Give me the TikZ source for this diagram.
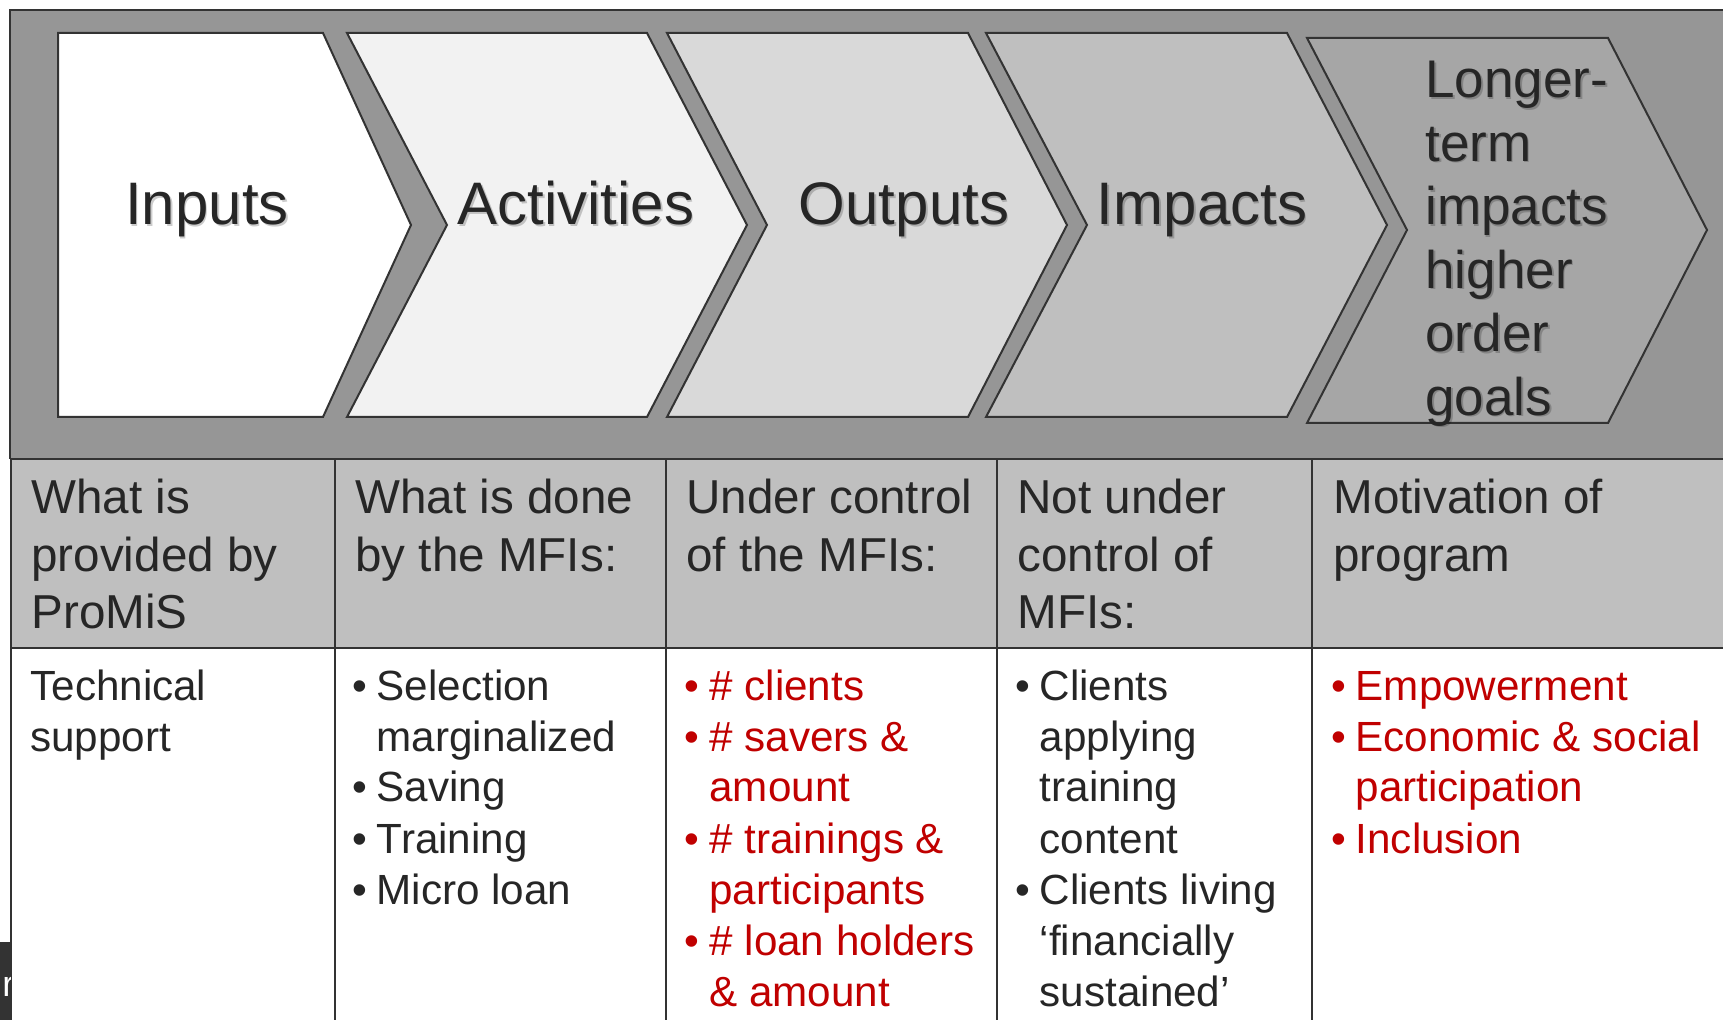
\documentclass[tikz,border=0pt]{standalone}
\usepackage{fontspec}
\setmainfont{Liberation Sans}
\usepackage{tikz}

\definecolor{band}{HTML}{969696}
\definecolor{headfill}{HTML}{BFBFBF}
\definecolor{rulegray}{HTML}{333333}
\definecolor{txt}{HTML}{262626}
\definecolor{mfired}{HTML}{C00000}
\definecolor{stepB}{HTML}{F2F2F2}
\definecolor{stepC}{HTML}{D9D9D9}
\definecolor{stepD}{HTML}{BFBFBF}
\definecolor{stepE}{HTML}{A6A6A6}
\definecolor{tipdark}{HTML}{333333}

\tikzset{
  chev/.style={draw=rulegray, line width=1pt, line join=miter},
  rule/.style={draw=rulegray, line width=1pt},
  steptext/.style={font=\fontsize{30}{36}\selectfont, text=txt, inner sep=0pt, anchor=base},
  stepshadow/.style={steptext, text=black, opacity=0.2, xshift=0.8pt, yshift=-0.9pt},
  headtext/.style={font=\fontsize{23.8}{28.65}\selectfont, text=txt, inner sep=0pt, anchor=base west},
  celltext/.style={font=\fontsize{21.1}{25.5}\selectfont, text=txt, inner sep=0pt, anchor=base west},
  redcell/.style={celltext, text=mfired},
}

\begin{document}
\begin{tikzpicture}[x=0.5pt, y=-0.5pt]
  \clip (0,0) rectangle (1723,1020);
  \fill[white] (0,0) rectangle (1723,1020);

  % grey band behind the steps
  \fill[band] (10,10) rectangle (1740,459);
  \draw[rule] (1740,10) -- (10,10) -- (10,459);

  % the five steps
  \draw[chev, fill=white] (58,33) -- (323,33) -- (411,225) -- (323,417) -- (58,417) -- cycle;
  \draw[chev, fill=stepB] (347,33) -- (647,33) -- (747,225) -- (647,417) -- (347,417) -- (447,225) -- cycle;
  \draw[chev, fill=stepC] (667,33) -- (968,33) -- (1067,225) -- (968,417) -- (667,417) -- (767,225) -- cycle;
  \draw[chev, fill=stepD] (986,33) -- (1287,33) -- (1387,225) -- (1287,417) -- (986,417) -- (1087,225) -- cycle;
  \draw[chev, fill=stepE] (1307,38) -- (1608,38) -- (1707,230) -- (1608,423) -- (1307,423) -- (1407,230) -- cycle;

  \node[stepshadow] at (207,225) {Inputs};
  \node[steptext] (inputs) at (207,225) {Inputs};
  \node[stepshadow] at (576,225) {Activities};
  \node[steptext] (activities) at (576,225) {Activities};
  \node[stepshadow] at (904,225) {Outputs};
  \node[steptext] (outputs) at (904,225) {Outputs};
  \node[stepshadow] at (1202,225) {Impacts};
  \node[steptext] (impacts) at (1202,225) {Impacts};
  \node[stepshadow, anchor=base west, font=\fontsize{26.5}{31.75}\selectfont] at (1425,97.7)
    {\begin{tabular}[t]{@{}l@{}}Longer-\\term\\impacts\\higher\\order\\goals\end{tabular}};
  \node[steptext, anchor=base west, font=\fontsize{26.5}{31.75}\selectfont] (goals) at (1425,97.7)
    {\begin{tabular}[t]{@{}l@{}}Longer-\\term\\impacts\\higher\\order\\goals\end{tabular}};

  % table: header row and body row
  \fill[headfill] (11,459) rectangle (1740,648);
  \draw[rule] (11,459) -- (1740,459);
  \draw[rule] (11,648) -- (1740,648);
  \foreach \x in {11,335,666,997,1312}
    \draw[rule] (\x,459) -- (\x,1030);

  \node[headtext] (h-inputs) at (31,514)
    {\begin{tabular}[t]{@{}l@{}}What is\\provided by\\ProMiS\end{tabular}};
  \node[headtext] (h-activities) at (355,514)
    {\begin{tabular}[t]{@{}l@{}}What is done\\by the MFIs:\end{tabular}};
  \node[headtext] (h-outputs) at (686,514)
    {\begin{tabular}[t]{@{}l@{}}Under control\\of the MFIs:\end{tabular}};
  \node[headtext] (h-impacts) at (1017,514)
    {\begin{tabular}[t]{@{}l@{}}Not under\\control of\\MFIs:\end{tabular}};
  \node[headtext] (h-goals) at (1333,514)
    {\begin{tabular}[t]{@{}l@{}}Motivation of\\program\end{tabular}};

  \node[celltext] (b-inputs) at (30,700)
    {\begin{tabular}[t]{@{}l@{}}Technical\\support\end{tabular}};
  \node[celltext] (b-activities) at (351.6,700)
    {\begin{tabular}[t]{@{}l@{\hspace{5pt}}l@{}}
      \textbullet & Selection\\
                  & marginalized\\
      \textbullet & Saving\\
      \textbullet & Training\\
      \textbullet & Micro loan
    \end{tabular}};
  \node[redcell] (b-outputs) at (684.3,700)
    {\begin{tabular}[t]{@{}l@{\hspace{5pt}}l@{}}
      \textbullet & \# clients\\
      \textbullet & \# savers \&\\
                  & amount\\
      \textbullet & \# trainings \&\\
                  & participants\\
      \textbullet & \# loan holders\\
                  & \& amount
    \end{tabular}};
  \node[celltext] (b-impacts) at (1014.6,700)
    {\begin{tabular}[t]{@{}l@{\hspace{5pt}}l@{}}
      \textbullet & Clients\\
                  & applying\\
                  & training\\
                  & content\\
      \textbullet & Clients living\\
                  & ‘financially\\
                  & sustained’
    \end{tabular}};
  \node[redcell] (b-goals) at (1330.6,700)
    {\begin{tabular}[t]{@{}l@{\hspace{5pt}}l@{}}
      \textbullet & Empowerment\\
      \textbullet & Economic \& social\\
                  & participation\\
      \textbullet & Inclusion
    \end{tabular}};

  % dark tab at the lower left edge
  \fill[tipdark] (0,942) rectangle (12,1020);
  \begin{scope}
    \clip (0,942) rectangle (10,1020);
    \node[text=white, font=\fontsize{18}{20}\selectfont, inner sep=0pt, anchor=base west] (tab) at (2,996) {r};
  \end{scope}
\end{tikzpicture}
\end{document}
